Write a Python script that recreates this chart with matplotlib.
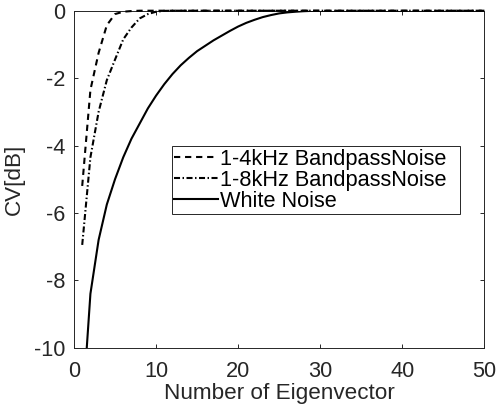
import matplotlib
matplotlib.use("Agg")
import matplotlib.pyplot as plt

plt.rcParams['font.family'] = ['Liberation Sans', 'DejaVu Sans']

eig = list(range(1, 51))

# 1-4kHz bandpass noise
bp4 = [-5.2, -2.35, -1.25, -0.43, -0.1, -0.03, -0.01] + [0.0] * 43
# 1-8kHz bandpass noise
bp8 = [-6.95, -4.35, -3.0, -2.06, -1.45, -0.85, -0.5, -0.23, -0.1, -0.03,
       -0.005] + [0.0] * 39
# white noise
white = [-12.0, -8.4, -6.8, -5.75, -5.0, -4.35, -3.8, -3.35, -2.9, -2.52,
         -2.18, -1.88, -1.62, -1.4, -1.2, -1.04, -0.88, -0.74, -0.6, -0.47,
         -0.36, -0.27, -0.19, -0.13, -0.08, -0.05, -0.03, -0.015, -0.005,
         0.0] + [0.0] * 20

labels = ['1-4kHz BandpassNoise', '1-8kHz BandpassNoise', 'White Noise']
xticks = [0, 10, 20, 30, 40, 50]
yticks = [-10, -8, -6, -4, -2, 0]

gray = '#262626'
fs = 15.7
lfs = 16.2

fig = plt.figure(figsize=(4.98, 4.07), dpi=100)
ax = fig.add_axes([0.1486, 0.1457, 0.9725 - 0.1486, 0.9737 - 0.1457])

ax.plot(eig, bp4, color='k', lw=1.5, linestyle=(0, (3.0, 2.3)),
        label=labels[0], zorder=3, clip_on=False)
ax.plot(eig, bp8, color='k', lw=1.5, linestyle=(0, (2.9, 1.2, 0.7, 1.2)),
        label=labels[1], zorder=3, clip_on=False)
ax.plot(eig, white, color='k', lw=1.5, linestyle='-', label=labels[2], zorder=3)

ax.set_xlim(0, 50)
ax.set_ylim(-10, 0)
ax.set_xticks(xticks)
ax.set_yticks(yticks)
ax.set_xticklabels([str(t) for t in xticks])
ax.set_yticklabels([str(t) for t in yticks])

for s in ax.spines.values():
    s.set_color(gray)
    s.set_linewidth(0.7)
ax.tick_params(direction='in', length=3, width=0.7, colors=gray,
               labelsize=fs, top=True, right=True, pad=6)
ax.tick_params(axis='x', pad=9.5)

ax.set_xlabel('Number of Eigenvector', fontsize=lfs, color=gray, labelpad=1)
ax.set_ylabel('CV[dB]', fontsize=lfs, color=gray, labelpad=7)

leg = ax.legend(loc='upper left', bbox_to_anchor=(0.238, 0.394, 0.703, 0.2045),
                mode='expand', borderaxespad=0, fontsize=fs, frameon=True,
                fancybox=False, handlelength=2.0, handletextpad=0.1,
                labelspacing=0.0, borderpad=0.12)
leg.get_frame().set_edgecolor(gray)
leg.get_frame().set_linewidth(0.7)
leg.get_frame().set_alpha(1)
leg.set_zorder(5)

fig.savefig('out.png', dpi=100)
